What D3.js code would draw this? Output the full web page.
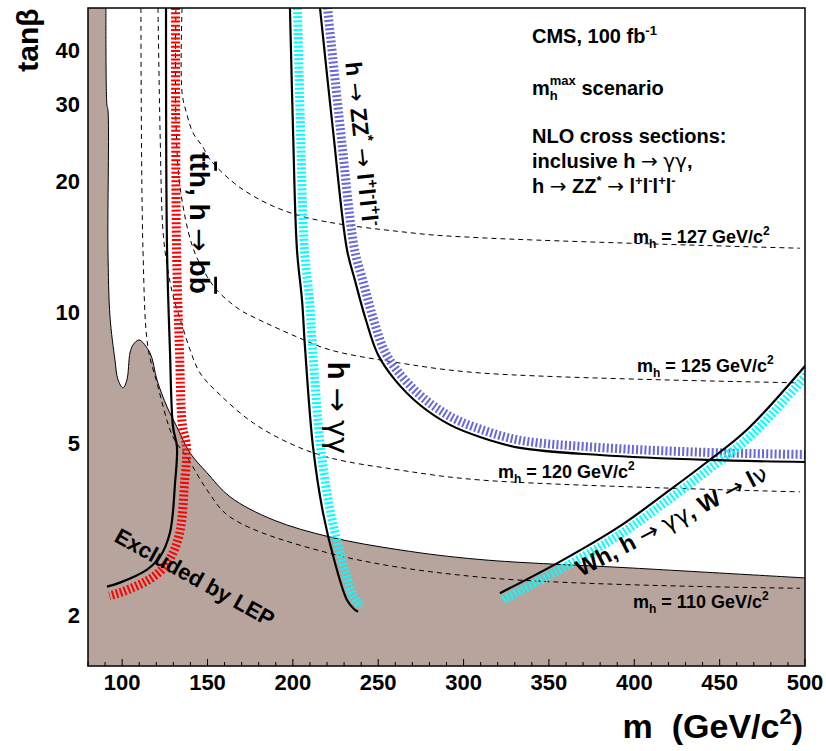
<!DOCTYPE html>
<html>
<head>
<meta charset="utf-8">
<script src="https://cdn.jsdelivr.net/npm/d3@7"></script>
<style>
  body { margin: 0; background: #fff; }
  svg text { font-family: "Liberation Sans", Arial, Helvetica, sans-serif; font-weight: bold; fill: #000; }
</style>
</head>
<body>
<div id="chart"></div>
<script>
// [m (GeV/c2), tanb] pairs
const lepBoundary = [[90.5, 50], [91.1, 29.9], [91.7, 29.1], [91.7, 13.9], [92.9, 9.73], [95.8, 7.74],
  [97.6, 6.97], [100.5, 6.68], [102.8, 6.97], [104.6, 8.04], [106.4, 8.39], [109.9, 8.61], [116.3, 8.04],
  [120.4, 6.97], [126.3, 6.04], [132.1, 5.43], [139.8, 4.73], [149.7, 4.26], [163.2, 3.75], [188.4, 3.32],
  [221.8, 3.03], [262.8, 2.83], [309.6, 2.69], [399.8, 2.57], [500, 2.44]];

const tthLine = [[125.7, 50], [126.3, 13.9], [128.0, 8.17], [129.8, 5.43], [132.1, 4.89], [131.0, 4.04],
  [128.0, 3.10], [122.2, 2.73], [114.6, 2.55], [98.7, 2.38], [91.1, 2.33]];

const gamgamLine = [[198.3, 50], [200.1, 26.2], [202.4, 13.9], [205.4, 10.6], [207.1, 8.30], [211.8, 4.89],
  [217.7, 3.44], [224.7, 2.64], [231.7, 2.17], [235.8, 2.07], [238.2, 2.04]];

const zzLine = [[215.9, 50], [223.5, 26.2], [231.7, 13.9], [236.4, 11.8], [242.8, 9.57], [249.9, 7.96],
  [259.8, 6.97], [274.5, 6.10], [292.1, 5.49], [309.6, 5.15], [333.1, 4.86], [379.9, 4.68], [442.6, 4.56], [500, 4.51]];

const whLine = [[321.3, 2.25], [356.5, 2.66], [391.6, 3.21], [420.9, 3.89], [442.6, 4.51], [466.0, 5.35], [500, 7.5]];

const mh110 = [[111.0, 50], [112.2, 13.9], [115.1, 8.30], [120.4, 6.86], [129.8, 5.15], [138.0, 4.63],
  [149.7, 3.89], [163.2, 3.37], [220.0, 2.79], [309.6, 2.45], [497.1, 2.31]];
const mh120 = [[121.0, 50], [122.2, 26.2], [123.9, 15.4], [126.3, 12.8], [129.8, 10.9], [134.5, 9.47],
  [139.8, 8.17], [145.6, 7.23], [157.3, 6.44], [176.7, 5.55], [200.1, 4.94], [221.8, 4.61], [262.8, 4.32],
  [309.6, 4.10], [497.1, 3.85]];
const mh125 = [[131.5, 50], [131.5, 27.6], [133.9, 19.4], [140.9, 14.25], [147.4, 12.5], [155.6, 11.2],
  [169.0, 10.1], [176.7, 9.73], [202.4, 8.75], [221.8, 8.17], [262.8, 7.62], [309.6, 7.23], [497.1, 6.86]];
const mh127 = [[135.1, 50], [135.1, 31.9], [138.0, 28.4], [141.5, 25.8], [147.4, 23.9], [151.5, 22.4],
  [170.8, 19.1], [202.4, 16.7], [268.6, 15.2], [309.6, 14.8], [497.1, 14.0]];

const xTicks = [100, 150, 200, 250, 300, 350, 400, 450, 500];
const yTicks = [2, 5, 10, 20, 30, 40];

const width = 826, height = 751;
const margin = { left: 88, right: 21, top: 8, bottom: 85 };
const bw = width - margin.left - margin.right;
const bh = height - margin.top - margin.bottom;

const svg = d3.select("#chart").append("svg")
  .attr("width", width).attr("height", height);

svg.append("defs").append("clipPath").attr("id", "plotclip")
  .append("rect").attr("width", bw).attr("height", bh);

const bounds = svg.append("g").attr("transform", `translate(${margin.left},${margin.top})`);

const x = d3.scaleLinear().domain([80, 500]).range([0, bw]);
const y = d3.scaleLog().domain([1.53, 50]).range([bh, 0]);

const line = d3.line().x(d => x(d[0])).y(d => y(d[1])).curve(d3.curveCatmullRom.alpha(0.5));

const plot = bounds.append("g").attr("clip-path", "url(#plotclip)");

// LEP excluded region
plot.append("path")
  .attr("d", line(lepBoundary) + `L${x(500)},${bh}L${x(80)},${bh}L${x(80)},${y(50)}Z`)
  .attr("fill", "rgb(182,164,157)").attr("stroke", "none");
plot.append("path").attr("d", line(lepBoundary))
  .attr("fill", "none").attr("stroke", "#000").attr("stroke-width", 1);

// mh contours
[mh110, mh120, mh125, mh127].forEach(c => {
  plot.append("path").attr("d", line(c))
    .attr("fill", "none").attr("stroke", "#000").attr("stroke-width", 1)
    .attr("stroke-dasharray", "5,4");
});

// hatched side of a discovery contour
function hatch(pts, side, color, off) {
  const tmp = plot.append("path").attr("d", line(pts)).attr("fill", "none");
  const node = tmp.node();
  const L = node.getTotalLength();
  const s = d3.range(0, L, 1).concat([L]).map(v => node.getPointAtLength(v));
  const offPts = s.map((p, i) => {
    const a = s[Math.max(i - 2, 0)], b = s[Math.min(i + 2, s.length - 1)];
    let tx = b.x - a.x, ty = b.y - a.y;
    const n = Math.hypot(tx, ty) || 1;
    tx /= n; ty /= n;
    return [p.x + side * ty * off, p.y - side * tx * off];
  });
  tmp.remove();
  plot.append("path").attr("d", d3.line()(offPts))
    .attr("fill", "none").attr("stroke", color).attr("stroke-width", 9)
    .attr("stroke-dasharray", "2,2.2");
}

hatch(tthLine, 1, "#ff0000", 9.5);
hatch(gamgamLine, 1, "#00ffff", 7.5);
hatch(zzLine, 1, "#6868dc", 7.5);
hatch(whLine, -1, "#00ffff", 7);

[tthLine, gamgamLine, zzLine, whLine].forEach(c => {
  plot.append("path").attr("d", line(c))
    .attr("fill", "none").attr("stroke", "#000").attr("stroke-width", 2.2);
});

// frame
bounds.append("rect").attr("width", bw).attr("height", bh)
  .attr("fill", "none").attr("stroke", "#000").attr("stroke-width", 1.5);

// x ticks (inside)
const minor = d3.range(80, 501, 10);
bounds.selectAll(".xt").data(minor).join("line")
  .attr("x1", d => x(d)).attr("x2", d => x(d))
  .attr("y1", bh).attr("y2", d => bh - (d % 50 === 0 ? 7 : 4))
  .attr("stroke", "#000").attr("stroke-width", 1);

bounds.selectAll(".xl").data(xTicks).join("text")
  .attr("x", d => x(d)).attr("y", 682)
  .attr("text-anchor", "middle").attr("font-size", 22).text(d => d);

bounds.selectAll(".yl").data(yTicks).join("text")
  .attr("x", -8).attr("y", d => y(d) + 8)
  .attr("text-anchor", "end").attr("font-size", 22).text(d => d);

// rich text: parts are [string, kind] with kind "", "sup", "sub", "sym", "bar"
function rich(sel, size, parts) {
  let shift = 0;
  const small = Math.round(size * 0.65);
  parts.forEach(([str, kind]) => {
    const target = kind === "sup" ? -size * 0.42 : kind === "sub" ? size * 0.25 : 0;
    const ts = sel.append("tspan").attr("dy", target - shift).text(str);
    shift = target;
    if (kind === "sup" || kind === "sub") ts.attr("font-size", small);
    else ts.attr("font-size", size);
    if (kind === "sym") ts.attr("font-weight", "normal").style("font-family", "DejaVu Sans");
    if (kind === "bar") ts.style("text-decoration", "overline");
  });
  return sel;
}

// axis titles
rich(svg.append("text").attr("x", 803).attr("y", 738).attr("text-anchor", "end"), 34,
  [["m\u00a0\u00a0(GeV/c", ""], ["2", "sup"], [")", ""]]);

svg.append("text").attr("transform", "translate(38,40) rotate(-90)")
  .attr("text-anchor", "middle").attr("font-size", 30).text("tan\u03b2");

// legend
const lx = 532;
rich(svg.append("text").attr("x", lx).attr("y", 43), 20, [["CMS, 100 fb", ""], ["-1", "sup"]]);

const mSpan = svg.append("text").attr("x", lx).attr("y", 95).attr("font-size", 20).text("m");
const mw = mSpan.node().getComputedTextLength();
svg.append("text").attr("x", lx + mw).attr("y", 100).attr("font-size", 13).text("h");
const maxT = svg.append("text").attr("x", lx + mw).attr("y", 85).attr("font-size", 13).text("max");
svg.append("text").attr("x", lx + mw + maxT.node().getComputedTextLength()).attr("y", 95)
  .attr("font-size", 20).text("\u00a0scenario");

svg.append("text").attr("x", lx).attr("y", 143).attr("font-size", 20).text("NLO cross sections:");
rich(svg.append("text").attr("x", lx).attr("y", 168), 20,
  [["inclusive h ", ""], ["\u2192", "sym"], [" ", ""], ["\u03b3\u03b3", "sym"], [",", ""]]);
rich(svg.append("text").attr("x", lx).attr("y", 193), 20,
  [["h ", ""], ["\u2192", "sym"], [" ZZ", ""], ["*", "sup"], [" ", ""], ["\u2192", "sym"], [" l", ""],
   ["+", "sup"], ["l", ""], ["-", "sup"], ["l", ""], ["+", "sup"], ["l", ""], ["-", "sup"]]);

// mh labels
function mhLabel(px, py, val) {
  rich(svg.append("text").attr("x", px).attr("y", py), 18,
    [["m", ""], ["h", "sub"], [` = ${val} GeV/c`, ""], ["2", "sup"]]);
}
mhLabel(633, 243, 127);
mhLabel(637, 372, 125);
mhLabel(498, 478, 120);
mhLabel(633, 608, 110);

// curve labels
rich(svg.append("text").attr("transform", "translate(190,223) rotate(90)").attr("text-anchor", "middle"), 28,
  [["t", ""], ["t", "bar"], ["h, h ", ""], ["\u2192", "sym"], [" b", ""], ["b", "bar"]]);

rich(svg.append("text").attr("transform", "translate(354,145) rotate(84)").attr("text-anchor", "middle"), 23,
  [["h ", ""], ["\u2192", "sym"], [" ZZ", ""], ["*", "sup"], [" ", ""], ["\u2192", "sym"], [" l", ""],
   ["+", "sup"], ["l", ""], ["-", "sup"], ["l", ""], ["+", "sup"], ["l", ""], ["-", "sup"]]);

rich(svg.append("text").attr("transform", "translate(328,408) rotate(90)").attr("text-anchor", "middle"), 29,
  [["h ", ""], ["\u2192", "sym"], [" ", ""], ["\u03b3\u03b3", "sym"]]);

rich(svg.append("text").attr("transform", "translate(581,577) rotate(-27.5)"), 23.5,
  [["Wh, h ", ""], ["\u2192", "sym"], [" ", ""], ["\u03b3\u03b3", "sym"], [", W ", ""], ["\u2192", "sym"],
   [" l", ""], ["\u03bd", "sym"]]);

svg.append("text").attr("transform", "translate(191,584) rotate(29)")
  .attr("text-anchor", "middle").attr("font-size", 22).text("Excluded by LEP");
</script>
</body>
</html>
